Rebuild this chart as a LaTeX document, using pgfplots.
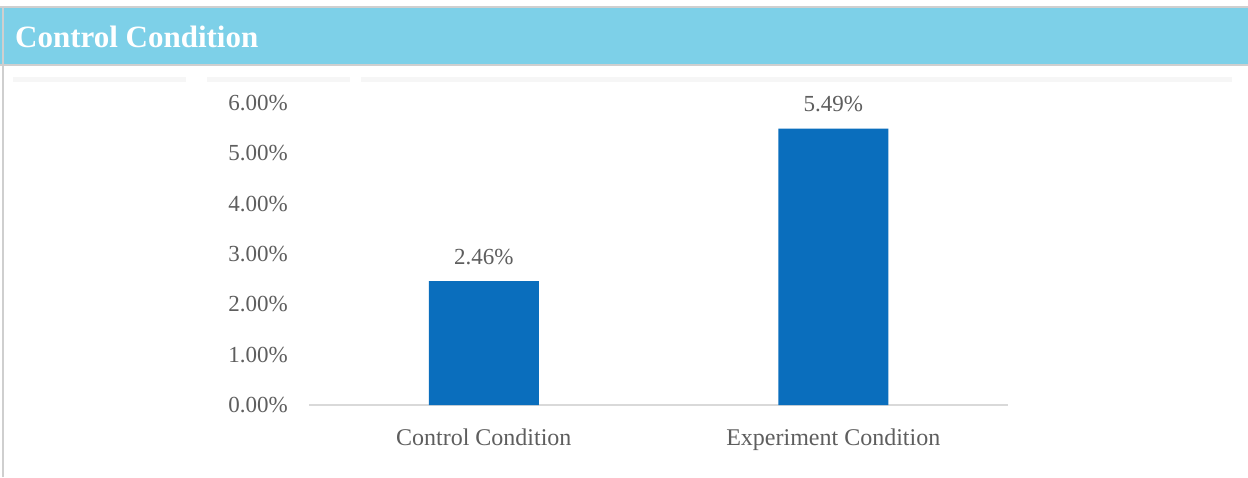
\documentclass[border=0pt]{standalone}
\usepackage{pgfplots}
\pgfplotsset{compat=1.18}
\usepackage{fontspec}
\setmainfont{Liberation Serif}

\definecolor{headerblue}{HTML}{7DD0E8}
\definecolor{barblue}{HTML}{0A6EBD}
\definecolor{labelgray}{HTML}{5E5E5E}
\definecolor{rulegray}{HTML}{CFCFCF}
\definecolor{basegray}{HTML}{D9D9D9}
\definecolor{stripgray}{HTML}{F6F6F6}

\begin{document}
\begin{tikzpicture}
  \useasboundingbox (0pt,0pt) rectangle (1248pt,477pt);
  \fill[white] (0pt,0pt) rectangle (1248pt,477pt);

  % header band with its title
  \fill[headerblue] (0pt,412pt) rectangle (1248pt,470pt);
  \draw[rulegray, line width=1.5pt] (0pt,470pt) -- (1248pt,470pt);
  \draw[rulegray, line width=1.5pt] (0pt,412pt) -- (1248pt,412pt);
  \draw[rulegray, line width=1.5pt] (3pt,0pt) -- (3pt,470pt);
  \node[anchor=base west, inner sep=0pt, text=white,
        font=\fontsize{31}{36}\selectfont\bfseries] at (15pt,429pt) {Control Condition};

  % faint strips under the header
  \fill[stripgray] (13pt,395pt) rectangle (186pt,400pt);
  \fill[stripgray] (207pt,395pt) rectangle (350pt,400pt);
  \fill[stripgray] (361pt,395pt) rectangle (1232pt,400pt);

  \begin{axis}[
      at={(309pt,72pt)}, anchor=south west,
      scale only axis, width=699pt, height=302pt,
      xmin=-0.5, xmax=1.5, ymin=0, ymax=6,
      axis line style={draw=none},
      major tick style={draw=none},
      ybar, bar width=110pt,
      xtick={0,1},
      xticklabels={Control Condition, Experiment Condition},
      xticklabel style={anchor=base, inner sep=0pt, yshift=-36pt,
                        text=labelgray, font=\fontsize{24}{28}\selectfont},
      ytick={0,1,2,3,4,5,6},
      yticklabels={0.00\%,1.00\%,2.00\%,3.00\%,4.00\%,5.00\%,6.00\%},
      yticklabel style={anchor=east, inner sep=0pt, xshift=-21pt,
                        text=labelgray, font=\fontsize{23}{27}\selectfont},
      nodes near coords={\pgfmathprintnumber[fixed, zerofill, precision=2,
                          assume math mode=true]{\pgfplotspointmeta}\%},
      nodes near coords style={anchor=base, inner sep=0pt, yshift=17pt,
                               text=labelgray, font=\fontsize{23}{27}\selectfont},
      clip=false,
    ]
    \draw[basegray, line width=1.5pt] (axis cs:-0.5,0) -- (axis cs:1.5,0);
    \addplot[fill=barblue, draw=none] coordinates {(0,2.46) (1,5.49)};
  \end{axis}
\end{tikzpicture}
\end{document}
